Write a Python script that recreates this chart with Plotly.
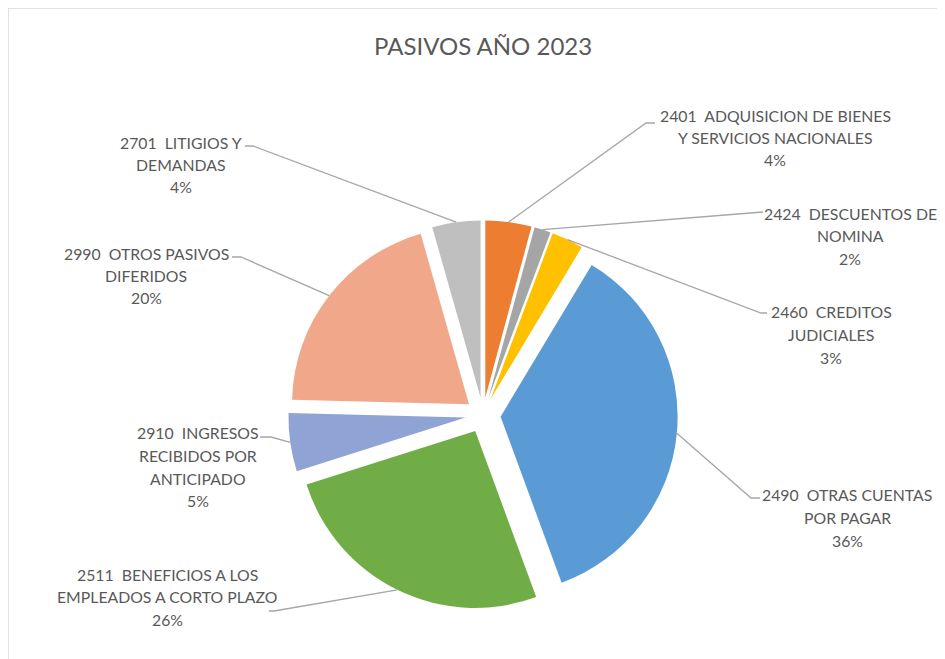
import math
import plotly.graph_objects as go

# ---- data ----
codes = ["2401", "2424", "2460", "2490", "2511", "2910", "2990", "2701"]
names = [
    "ADQUISICION DE BIENES Y SERVICIOS NACIONALES",
    "DESCUENTOS DE NOMINA",
    "CREDITOS JUDICIALES",
    "OTRAS CUENTAS POR PAGAR",
    "BENEFICIOS A LOS EMPLEADOS A CORTO PLAZO",
    "INGRESOS RECIBIDOS POR ANTICIPADO",
    "OTROS PASIVOS DIFERIDOS",
    "LITIGIOS Y DEMANDAS",
]
label_lines = [
    ["2401  ADQUISICION DE BIENES", "Y SERVICIOS NACIONALES"],
    ["2424  DESCUENTOS DE", "NOMINA"],
    ["2460  CREDITOS", "JUDICIALES"],
    ["2490  OTRAS CUENTAS", "POR PAGAR"],
    ["2511  BENEFICIOS A LOS", "EMPLEADOS A CORTO PLAZO"],
    ["2910  INGRESOS", "RECIBIDOS POR", "ANTICIPADO"],
    ["2990  OTROS PASIVOS", "DIFERIDOS"],
    ["2701  LITIGIOS Y", "DEMANDAS"],
]
values = [4.2, 1.5, 2.9, 35.8, 25.7, 5.3, 20.2, 4.4]
colors = ["#ED7D31", "#A5A5A5", "#FFC000", "#5B9BD5",
          "#70AD47", "#8FA3D5", "#F0A78A", "#BFBFBF"]
title_text = "PASIVOS AÑO 2023"

# ---- layout constants (pixels in the screenshot) ----
W, H = 945, 659
OFF = 8  # page body margin
CX, CY, R = 483, 415, 177
PULL = 0.1
TXT = "#595959"
LINE = "#A6A6A6"
FONT = "Lato"

# label block: first line centre (x, y)
label_pos = [(775, 115), (850, 213), (831, 312), (847, 495),
             (167, 574), (198, 433), (146, 253), (181, 142)]
# leader line: end near text, elbow
leader_end = [((655, 123), (646, 123)), ((763, 212), None), ((767, 313), (761, 313)),
              ((760, 498), (751, 498)), ((269, 611), (274, 611)),
              ((260, 437), (271, 437)), ((232, 257), (241, 257)), ((245, 146), (253, 146))]
LINE_STEP = 22.5


def px(x, y):
    return (x - OFF) / W, 1 - (y - OFF) / H


half = R * (1 + PULL)
dom_x = [(CX - OFF - half) / W, (CX - OFF + half) / W]
dom_y = [1 - (CY - OFF + half) / H, 1 - (CY - OFF - half) / H]

fig = go.Figure(go.Pie(
    labels=[f"{c}  {n}" for c, n in zip(codes, names)],
    values=values,
    sort=False,
    direction="clockwise",
    rotation=0,
    pull=PULL,
    textinfo="none",
    marker=dict(colors=colors, line=dict(width=0)),
    domain=dict(x=dom_x, y=dom_y),
    showlegend=False,
))

total = sum(values)
annotations = []
shapes = []
cum = 0.0
for i, v in enumerate(values):
    mid = (cum + v / 2) / total * 2 * math.pi
    cum += v
    ax = CX + R * (1 + PULL) * math.sin(mid)
    ay = CY - R * (1 + PULL) * math.cos(mid)
    pct = int(v / total * 100 + 0.5)
    lines = label_lines[i] + [f"{pct}%"]
    lx, ly = label_pos[i]
    for k, t in enumerate(lines):
        x, y = px(lx, ly + k * LINE_STEP)
        annotations.append(dict(x=x, y=y, xref="paper", yref="paper", text=t,
                                showarrow=False, xanchor="center", yanchor="middle",
                                font=dict(family=FONT, size=15.8, color=TXT)))
    end, elbow = leader_end[i]
    pts = [end] + ([elbow] if elbow else []) + [(ax, ay)]
    path = "M " + " L ".join(f"{px(x, y)[0]:.5f},{px(x, y)[1]:.5f}" for x, y in pts)
    shapes.append(dict(type="path", path=path, xref="paper", yref="paper",
                       line=dict(color=LINE, width=1.3)))

tx, ty = px(483, 45)
annotations.append(dict(x=tx, y=ty, xref="paper", yref="paper", text=title_text,
                        showarrow=False, xanchor="center", yanchor="middle",
                        font=dict(family=FONT, size=24, color=TXT)))

x0, y0 = px(8, 8)
x1, y1 = px(943, 700)
shapes.append(dict(type="rect", xref="paper", yref="paper", x0=x0, y0=y0, x1=x1, y1=y1,
                   line=dict(color="#D9D9D9", width=1.5), fillcolor="rgba(0,0,0,0)"))

fig.update_layout(
    width=W, height=H, autosize=False,
    margin=dict(l=0, r=0, t=0, b=0),
    paper_bgcolor="white", plot_bgcolor="white",
    annotations=annotations, shapes=shapes,
)
fig.write_html("out.html")
